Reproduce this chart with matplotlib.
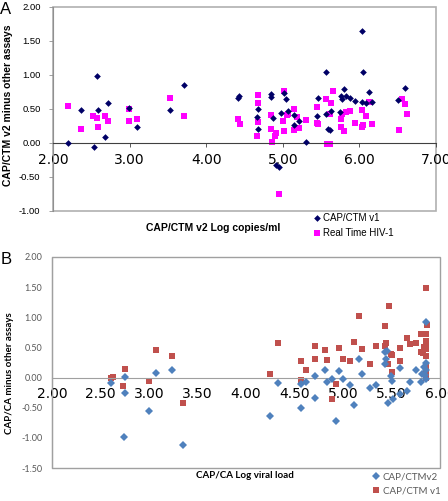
import matplotlib
matplotlib.use("Agg")
import matplotlib.pyplot as plt
from matplotlib.patches import Rectangle

# Panel A: CAP/CTM v2 vs other assays
a_v1_x = [2.19, 2.36, 2.58, 2.59, 2.53, 2.68, 2.72, 2.99, 3.10, 3.53, 3.71,
          4.41, 4.43, 4.66, 4.68, 4.68, 4.85, 4.85, 4.87, 4.91, 4.95, 4.98,
          5.02, 5.04, 5.07, 5.14, 5.14, 5.21, 5.30, 5.44, 5.46, 5.57, 5.56,
          5.59, 5.61, 5.63, 5.75, 5.76, 5.77, 5.80, 5.83, 5.88, 5.94, 6.03,
          6.05, 6.03, 6.09, 6.13, 6.16, 6.51, 6.60]
a_v1_y = [0.00, 0.48, 0.99, 0.48, -0.06, 0.09, 0.59, 0.52, 0.23, 0.49, 0.85,
          0.66, 0.69, 0.38, 0.50, 0.20, 0.72, 0.68, 0.37, -0.33, -0.35, 0.44,
          0.74, 0.64, 0.47, 0.41, 0.26, 0.32, 0.02, 0.39, 0.66, 1.05, 0.43,
          0.21, 0.19, 0.47, 0.46, 0.69, 0.65, 0.80, 0.69, 0.66, 0.62, 1.65,
          1.05, 0.61, 0.59, 0.75, 0.60, 0.63, 0.81]

a_rt_x = [2.19, 2.36, 2.52, 2.58, 2.59, 2.68, 2.72, 2.99, 2.99, 3.10, 3.53,
          3.71, 4.41, 4.44, 4.66, 4.67, 4.68, 4.68, 4.85, 4.85, 4.86, 4.90,
          4.91, 4.95, 5.01, 5.00, 5.02, 5.06, 5.07, 5.14, 5.14, 5.18, 5.21,
          5.30, 5.44, 5.44, 5.46, 5.56, 5.58, 5.61, 5.61, 5.63, 5.65, 5.76,
          5.76, 5.77, 5.80, 5.83, 5.88, 5.94, 6.03, 6.03, 6.05, 6.08, 6.13,
          6.16, 6.52, 6.56, 6.60, 6.62]
a_rt_y = [0.54, 0.21, 0.39, 0.37, 0.23, 0.39, 0.32, 0.50, 0.32, 0.35, 0.66,
          0.40, 0.35, 0.28, 0.11, 0.71, 0.59, 0.31, 0.41, 0.21, 0.02, 0.11,
          0.14, -0.75, 0.76, 0.33, 0.17, 0.41, 0.43, 0.50, 0.19, 0.38, 0.22,
          0.34, 0.53, 0.29, 0.28, 0.64, -0.02, -0.02, 0.43, 0.59, 0.76, 0.23,
          0.36, 0.42, 0.18, 0.46, 0.47, 0.30, 0.49, 0.24, 0.26, 0.39, 0.61,
          0.28, 0.19, 0.65, 0.57, 0.42]

# Panel B: CAP/CA vs other assays
b_v2_x = [2.61, 2.75, 2.75, 2.74, 3.00, 3.07, 3.24, 3.35,
          4.25, 4.33, 4.57, 4.57, 4.62, 4.71, 4.71, 4.81, 4.83, 4.89, 4.93,
          4.96, 5.00, 5.07, 5.11, 5.16, 5.20, 5.28, 5.34, 5.43, 5.45, 5.44,
          5.43, 5.46, 5.49, 5.51, 5.52, 5.59, 5.59, 5.66, 5.69, 5.75, 5.80,
          5.81, 5.84, 5.86, 5.86, 5.86, 5.85, 5.86]
b_v2_y = [-0.09, 0.01, -0.26, -0.99, -0.55, 0.07, 0.13, -1.12,
          -0.63, -0.09, -0.11, -0.51, -0.08, 0.02, -0.34, 0.13, -0.07, -0.03,
          -0.72, 0.11, -0.02, -0.12, -0.46, 0.31, 0.06, -0.17, -0.13, 0.43,
          0.44, 0.31, 0.22, -0.43, 0.03, -0.05, -0.36, 0.16, -0.28, -0.22,
          -0.08, 0.12, -0.08, 0.06, 0.18, 0.92, 0.25, 0.13, 0.05, -0.02]

b_v1_x = [2.61, 2.63, 2.75, 2.73, 3.00, 3.07, 3.24, 3.35,
          4.25, 4.33, 4.57, 4.57, 4.62, 4.71, 4.71, 4.81, 4.83, 4.89, 4.93,
          4.96, 5.00, 5.07, 5.11, 5.16, 5.20, 5.28, 5.34, 5.43, 5.44, 5.43,
          5.47, 5.46, 5.49, 5.51, 5.51, 5.59, 5.59, 5.66, 5.69, 5.75, 5.80,
          5.80, 5.83, 5.82, 5.86, 5.87, 5.86, 5.86, 5.86, 5.86, 5.86, 5.86,
          5.86, 5.86, 5.86]
b_v1_y = [0.00, 0.01, 0.14, -0.14, -0.06, 0.46, 0.36, -0.42,
          0.06, 0.57, 0.27, -0.04, 0.13, 0.52, 0.30, 0.46, 0.29, -0.36, -0.11,
          0.49, 0.31, 0.28, 0.59, 1.02, 0.48, 0.22, 0.53, 0.86, 0.57, 0.53,
          1.18, 0.23, 0.39, 0.38, 0.09, 0.49, 0.27, 0.66, 0.56, 0.58, 0.73,
          0.43, 0.51, 0.41, 1.48, 0.87, 0.72, 0.61, 0.53, 0.47, 0.35, 0.20,
          0.07, 0.05, 0.00]

a_xticks = [2, 3, 4, 5, 6, 7]
a_yticks = [-1.0, -0.5, 0.0, 0.5, 1.0, 1.5, 2.0]
b_xticks = [2.0, 2.5, 3.0, 3.5, 4.0, 4.5, 5.0, 5.5, 6.0]
b_yticks = [-1.5, -1.0, -0.5, 0.0, 0.5, 1.0, 1.5, 2.0]

W, H = 448, 501
fig = plt.figure(figsize=(W / 100, H / 100), dpi=100)


def box(l, t, r, b):
    return [l / W, 1 - b / H, (r - l) / W, (b - t) / H]


# ---------------- Panel A ----------------
fa = "Liberation Sans"
ax = fig.add_axes(box(53, 7, 436, 211))
ax.plot(a_v1_x, a_v1_y, "D", color="#000066", ms=3.4, mew=0, label="CAP/CTM v1", zorder=3)
ax.plot(a_rt_x, a_rt_y, "s", color="#ff00ff", ms=5.0, mew=0, label="Real Time HIV-1", zorder=2)
ax.set_xlim(2, 7)
ax.set_ylim(-1, 2)
ax.set_xticks(a_xticks)
ax.set_xticklabels([f"{v:.2f}" for v in a_xticks], family=fa, fontsize=6.8)
ax.set_yticks(a_yticks)
ax.set_yticklabels([f"{v:.2f}" for v in a_yticks], family=fa, fontsize=6.8)
for s in ["top", "right"]:
    ax.spines[s].set_visible(False)
ax.spines["left"].set_color("#909090")
ax.spines["bottom"].set_position(("data", 0))
ax.spines["bottom"].set_color("#404040")
ax.tick_params(axis="x", length=3, width=0.6, color="#404040", pad=4)
ax.tick_params(axis="y", length=3, width=0.6, color="#909090", pad=6)
ax.add_patch(Rectangle((0, 0), 1, 1, transform=ax.transAxes, fill=False,
                       edgecolor="#b0b0b0", lw=1.2, clip_on=False, zorder=0))
ax.legend(loc="upper left", bbox_to_anchor=(312 / W, 1 - 213 / H),
          bbox_transform=fig.transFigure, frameon=False,
          prop={"family": fa, "size": 7}, handletextpad=0.1,
          labelspacing=0.55, borderaxespad=0, handlelength=1.0, borderpad=0)
fig.text(213 / W, 1 - 228 / H, "CAP/CTM v2 Log copies/ml", family=fa, fontsize=7.5,
         weight="bold", ha="center", va="center")
fig.text(8 / W, 1 - 105 / H, "CAP/CTM v2 minus other assays", family=fa, fontsize=7.5,
         weight="bold", ha="center", va="center", rotation=90)
fig.text(0 / W, 1 - 9 / H, "A", family=fa, fontsize=12, ha="left", va="center")

# ---------------- Panel B ----------------
fb = "Lato"
gray = "#595959"
bx = fig.add_axes(box(52, 257, 440, 468))
bx.plot(b_v2_x, b_v2_y, "D", color="#4f81bd", ms=4.3, mew=0, label="CAP/CTMv2", zorder=3)
bx.plot(b_v1_x, b_v1_y, "s", color="#c0504d", ms=4.3, mew=0, label="CAP/CTM v1", zorder=2)
bx.set_xlim(2, 6)
bx.set_ylim(-1.5, 2)
bx.set_xticks(b_xticks)
bx.set_xticklabels([f"{v:.2f}" for v in b_xticks], family=fb, fontsize=6.5, color=gray)
bx.set_yticks(b_yticks)
bx.set_yticklabels([f"{v:.2f}" for v in b_yticks], family=fb, fontsize=6.5, color=gray)
for s in ["top", "right"]:
    bx.spines[s].set_visible(False)
bx.spines["left"].set_color("#a0a0a0")
bx.spines["bottom"].set_position(("data", 0))
bx.spines["bottom"].set_color("#a0a0a0")
bx.tick_params(axis="x", length=0, pad=7)
bx.tick_params(axis="y", length=0, pad=7)
bx.add_patch(Rectangle((0, 0), 1, 1, transform=bx.transAxes, fill=False,
                       edgecolor="#a0a0a0", lw=1.0, clip_on=False, zorder=0))
bx.legend(loc="upper left", bbox_to_anchor=(371 / W, 1 - 472 / H),
          bbox_transform=fig.transFigure, frameon=False,
          prop={"family": fb, "size": 7}, labelcolor=gray, handletextpad=0.2,
          labelspacing=0.6, borderaxespad=0, handlelength=1.0, borderpad=0)
fig.text(245 / W, 1 - 476 / H, "CAP/CA Log viral load", family=fb, fontsize=7,
         weight="bold", ha="center", va="center")
fig.text(10 / W, 1 - 373 / H, "CAP/CA minus other assays", family=fb, fontsize=7,
         weight="bold", ha="center", va="center", rotation=90)
fig.text(1 / W, 1 - 260 / H, "B", family=fa, fontsize=12, ha="left", va="center")

fig.savefig("out.png", dpi=100)
